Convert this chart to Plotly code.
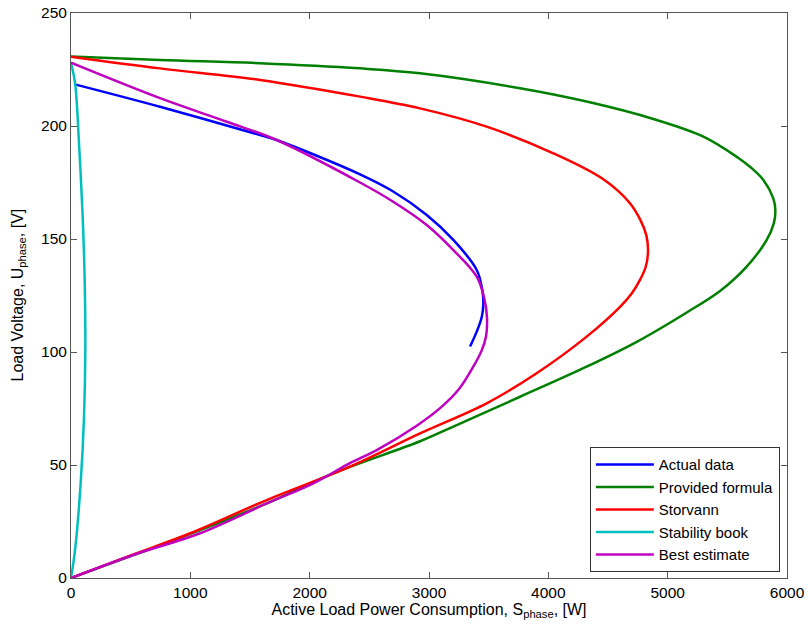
import plotly.graph_objects as go

# Actual data
actual_x = [40, 746, 1584, 1723, 2422, 2700, 2981, 3204, 3400, 3448, 3455, 3442, 3400, 3344]
actual_y = [218.3, 208.5, 196.0, 193.8, 178.6, 171.0, 160.6, 149.6, 136.3, 127.0, 121.0, 115.5, 109.0, 102.4]

# Provided formula
provided_x = [0, 746, 1584, 2422, 2925, 3763, 4321, 4880, 5299, 5578, 5700, 5802, 5885, 5902, 5890,
              5830, 5662, 5439, 5160, 4741, 4321, 3763, 3204, 2925, 2198, 1640, 1000, 500, 0]
provided_y = [230.8, 229.2, 227.8, 225.5, 223.3, 216.7, 210.8, 203.1, 195.3, 186.4, 181.5, 176.1, 168.0, 163.0, 157.0,
              149.6, 137.8, 127.0, 117.5, 104.5, 93.5, 80.2, 67.0, 60.5, 46.3, 33.0, 19.5, 9.7, 0]

# Storvann
storvann_x = [0, 746, 1584, 2422, 2925, 3483, 4042, 4461, 4684, 4775, 4822, 4835, 4815, 4768, 4700,
              4601, 4321, 3902, 3483, 2925, 2338, 1640, 1000, 500, 0]
storvann_y = [230.7, 225.5, 220.4, 213.0, 207.8, 199.7, 187.9, 176.4, 165.8, 158.0, 151.5, 144.0, 137.5, 131.9, 126.0,
              120.0, 106.8, 90.6, 77.3, 64.0, 49.3, 34.5, 19.8, 10.0, 0]

# Stability book
stability_x = [0, 34, 70, 98, 115, 120, 109, 81, 34, 0]
stability_y = [227.9, 219.0, 189.4, 159.7, 130.5, 100.9, 71.2, 42.0, 12.4, 0]

# Best estimate
best_x = [0, 746, 1305, 1723, 2422, 2700, 2981, 3204, 3400, 3462, 3486, 3478, 3440, 3371,
          3250, 3100, 2900, 2562, 2338, 2031, 1640, 1081, 522, 0]
best_y = [228.0, 212.3, 201.9, 193.8, 175.0, 166.5, 156.2, 145.1, 133.3, 124.0, 115.0, 107.0, 100.5, 93.5,
          83.5, 75.5, 67.5, 56.6, 50.8, 41.9, 33.0, 19.8, 10.2, 0]

series = [
    ("Actual data", actual_x, actual_y, "rgb(0,0,255)"),
    ("Provided formula", provided_x, provided_y, "rgb(0,128,0)"),
    ("Storvann", storvann_x, storvann_y, "rgb(255,0,0)"),
    ("Stability book", stability_x, stability_y, "rgb(0,191,191)"),
    ("Best estimate", best_x, best_y, "rgb(191,0,191)"),
]

x_ticks = [0, 1000, 2000, 3000, 4000, 5000, 6000]
y_ticks = [0, 50, 100, 150, 200, 250]
x_title = "Active Load Power Consumption, S<sub>phase</sub>, [W]"
y_title = "Load Voltage, U<sub>phase</sub>, [V]"

fig = go.Figure()
for name, xs, ys, col in series:
    fig.add_trace(go.Scatter(x=xs, y=ys, mode="lines", name=name,
                             line=dict(color=col, width=2.5, shape="spline", smoothing=1.0)))

font = "Liberation Sans, Arial, Helvetica, sans-serif"
axis_common = dict(showgrid=False, zeroline=False, showline=True, linecolor="#555555", linewidth=1,
                   mirror="ticks", ticks="inside", ticklen=6, tickcolor="#555555", automargin=False,
                   ticklabeloverflow="allow",
                   tickfont=dict(family=font, size=15.5, color="black"))

fig.update_layout(
    width=808, height=630,
    margin=dict(l=71, r=21, t=13, b=52),
    paper_bgcolor="white", plot_bgcolor="white",
    font=dict(family=font, size=16, color="black"),
    xaxis=dict(range=[0, 6000], tickvals=x_ticks, ticktext=[str(v) for v in x_ticks],
               title=dict(text=x_title, font=dict(family=font, size=16), standoff=2),
               **axis_common),
    yaxis=dict(range=[0, 250], tickvals=y_ticks, ticktext=[str(v) for v in y_ticks],
               **axis_common),
    legend=dict(x=0.99, y=0.01, xanchor="right", yanchor="bottom",
                bordercolor="#333333", borderwidth=1, bgcolor="white",
                itemwidth=58, font=dict(family=font, size=15)),
    showlegend=True,
    annotations=[dict(text=y_title, textangle=-90, xref="paper", yref="paper",
                      x=-0.074, y=0.5, xanchor="center", yanchor="middle", showarrow=False,
                      font=dict(family=font, size=16, color="black"))],
)

# remove the page's default body margin so the figure fills the window exactly
fig.write_html("out.html", config={"displayModeBar": False},
               post_script="document.body.style.margin='0';")
